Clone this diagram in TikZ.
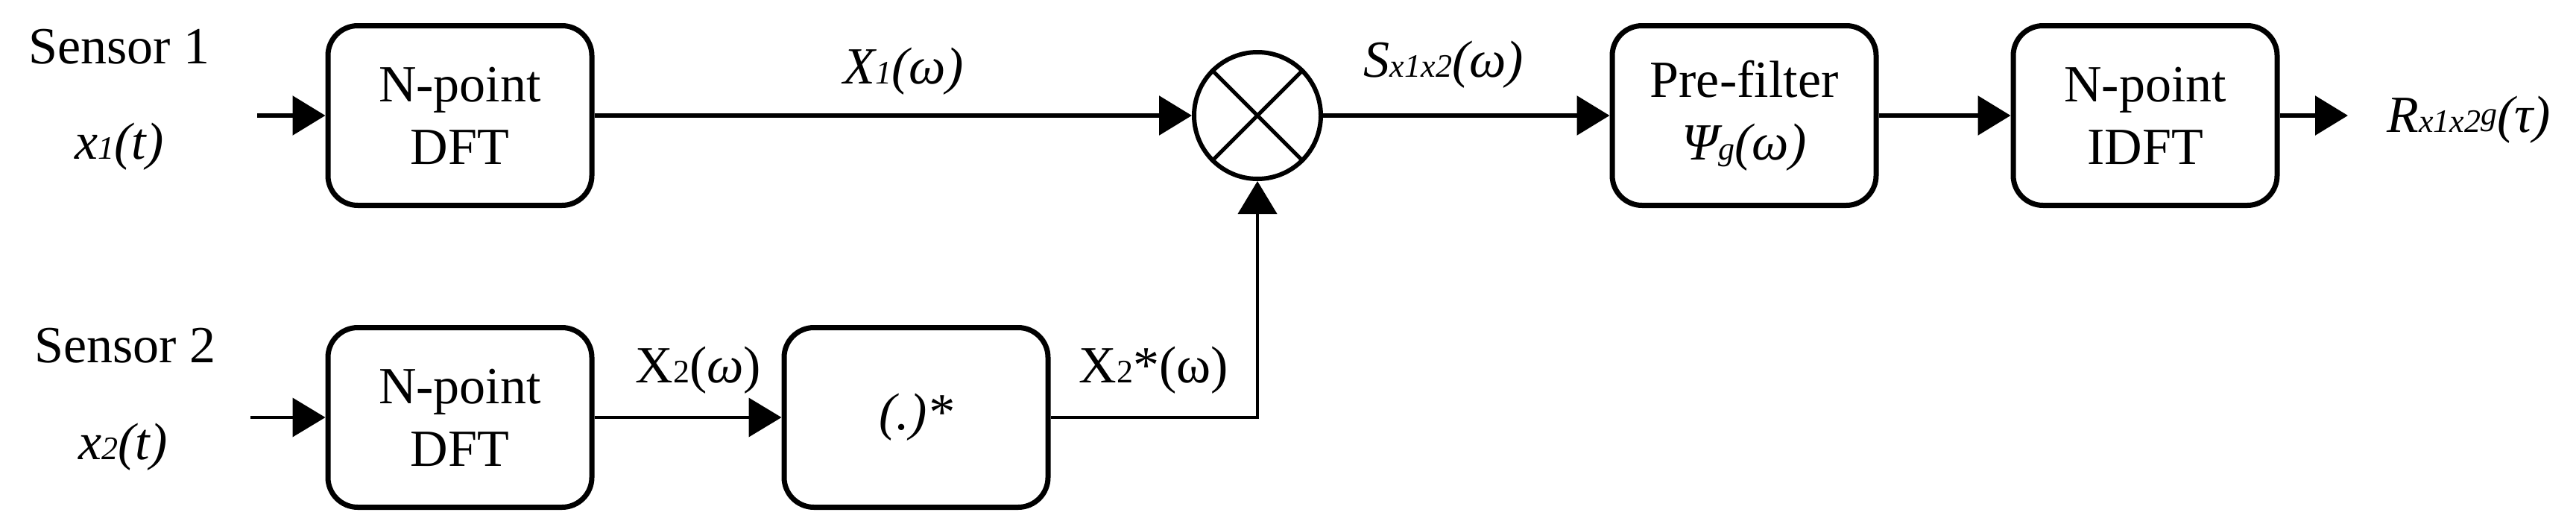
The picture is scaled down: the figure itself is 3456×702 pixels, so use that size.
\documentclass[tikz,border=0pt]{standalone}
\usepackage{fontspec}
\setmainfont{Liberation Serif}
\usetikzlibrary{arrows.meta}
\newcommand{\sm}[1]{{\fontsize{44}{44}\selectfont #1}}
\begin{document}
\begin{tikzpicture}[x=1pt,y=-1pt,
  box/.style={draw,line width=7pt,rounded corners=40pt,minimum width=354pt,minimum height=241pt,align=center,inner sep=0pt},
  lbl/.style={inner sep=0pt,align=center},
  thick arr/.style={line width=6pt,-{Triangle[length=44pt,width=52pt]}},
  thin arr/.style={line width=4pt,-{Triangle[length=44pt,width=52pt]}},
  font=\fontsize{70}{84}\selectfont]
\useasboundingbox (0,0) rectangle (3456,702);
\node[lbl] (s1) at (160,63) {Sensor 1};
\node[lbl] (x1) at (160,197) {\textit{x\sm{1}(t)}};
\node[lbl] (s2) at (168,464) {Sensor 2};
\node[lbl] (x2) at (165,600) {\textit{x\sm{2}(t)}};
\node[box] (dft1) at (617,155) {N-point\\DFT};
\node[box] (dft2) at (617,560) {N-point\\DFT};
\node[box] (conj) at (1229,560) {\textit{(.)*}};
\node[draw,circle,line width=6pt,minimum size=170pt,inner sep=0pt] (mul) at (1687,155) {};
\draw[line width=5pt] (mul.north west) -- (mul.south east) (mul.north east) -- (mul.south west);
\node[box] (pre) at (2340,155) {Pre-filter\\\textit{Ψ\sm{g}(ω)}};
\node[box] (idft) at (2878,155) {N-point\\IDFT};
\coordinate (in1) at (345,155);
\coordinate (in2) at (336,560);
\coordinate (out) at (3150,155);
\coordinate (corner) at (1687,560);
\node[lbl] (lx1) at (1212,96) {\textit{X\sm{1}(ω)}};
\node[lbl] (lx2) at (937,497) {X\sm{2}(\textit{ω})};
\node[lbl] (lx2s) at (1548,497) {X\sm{2}*(ω)};
\node[lbl] (ls) at (1937,87) {\textit{S\sm{x1x2}(ω)}};
\node[lbl] (lr) at (3312,161) {\textit{R\sm{x1x2}\raisebox{10pt}{\sm{g}}(τ)}};
\draw[thick arr] (in1) -- (dft1);
\draw[thick arr] (dft1) -- (mul);
\draw[thick arr] (mul) -- (pre);
\draw[thick arr] (pre) -- (idft);
\draw[thick arr] (idft) -- (out);
\draw[thin arr] (in2) -- (dft2);
\draw[thin arr] (dft2) -- (conj);
\draw[thin arr] (conj.east) -- (corner) -- (mul.south);
\end{tikzpicture}
\end{document}
